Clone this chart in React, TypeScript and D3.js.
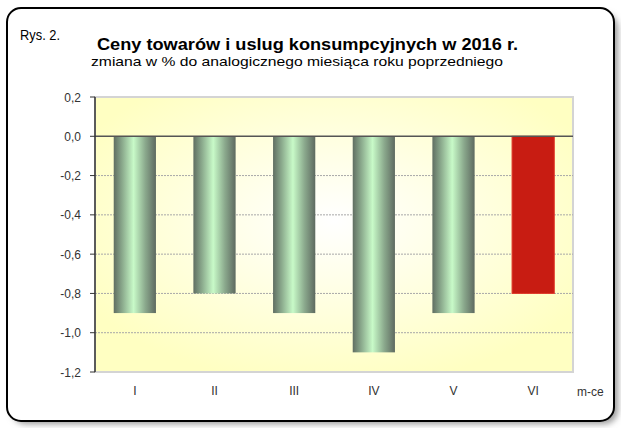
import React from 'react';
import * as d3 from 'd3';

// dane z wykresu
const months = ['I', 'II', 'III', 'IV', 'V', 'VI'];
const values = [-0.9, -0.8, -0.9, -1.1, -0.9, -0.8];
const yTicks = [0.2, 0.0, -0.2, -0.4, -0.6, -0.8, -1.0, -1.2];
const title = 'Ceny towarów i uslug konsumpcyjnych w 2016 r.';
const subtitle = 'zmiana w % do analogicznego miesiąca roku poprzedniego';

const W = 621;
const H = 428;
const plot = { left: 95, right: 573, top: 97, bottom: 372 };

const App = () => {
  const x = d3.scaleBand()
    .domain(months)
    .range([plot.left, plot.right])
    .paddingInner(0.47)
    .paddingOuter(0.235);

  const y = d3.scaleLinear()
    .domain([-1.2, 0.2])
    .range([plot.bottom, plot.top]);

  const fmt = (v: number) => d3.format('.1f')(v).replace('.', ',').replace('−', '-');
  const font = 'Arial, "Liberation Sans", sans-serif';

  return (
    <svg width={W} height={H} style={{ position: 'absolute', left: 0, top: 0 }} fontFamily={font}>
      <defs>
        <radialGradient id="bg" cx="0.5" cy="0.45" r="0.6">
          <stop offset="0" stopColor="#ffffff" />
          <stop offset="1" stopColor="#ffffc2" />
        </radialGradient>
        <linearGradient id="bar" x1="0" x2="1" y1="0" y2="0">
          <stop offset="0" stopColor="#606e62" />
          <stop offset="0.2" stopColor="#8aa98c" />
          <stop offset="0.47" stopColor="#c8fac8" />
          <stop offset="0.75" stopColor="#8aa88c" />
          <stop offset="1" stopColor="#5e6a60" />
        </linearGradient>
        <filter id="shadow" x="-5%" y="-5%" width="110%" height="110%">
          <feGaussianBlur stdDeviation="3" />
        </filter>
      </defs>

      <rect x={0} y={0} width={W} height={H} fill="#ffffff" />
      {/* cień i ramka */}
      <rect x={12} y={14} width={606} height={410} rx={14} fill="#9a9a9a" filter="url(#shadow)" />
      <rect x={7} y={8} width={607} height={413} rx={14} fill="#ffffff" stroke="#000" strokeWidth={2} />

      <text x={20} y={40} fontSize={15} fill="#000" textLength={40} lengthAdjust="spacingAndGlyphs">Rys. 2.</text>
      <text x={97} y={50} fontSize={16} fontWeight="bold" fill="#000"
        textLength={421} lengthAdjust="spacingAndGlyphs">{title}</text>
      <text x={91} y={66} fontSize={13.5} fill="#000"
        textLength={412} lengthAdjust="spacingAndGlyphs">{subtitle}</text>

      {/* tło obszaru wykresu */}
      <rect x={plot.left} y={plot.top} width={plot.right - plot.left} height={plot.bottom - plot.top}
        fill="url(#bg)" stroke="#d4d4d4" strokeWidth={2} />

      {yTicks.filter(t => t !== 0 && t !== 0.2 && t !== -1.2).map(t => (
        <line key={t} x1={plot.left} x2={plot.right} y1={y(t)} y2={y(t)}
          stroke="#a8a8a8" strokeWidth={1} strokeDasharray="2,1" />
      ))}

      {values.map((v, i) => (
        <rect key={months[i]} x={x(months[i])} y={y(0)} width={x.bandwidth()} height={y(v) - y(0)}
          fill={i === values.length - 1 ? '#c81c12' : 'url(#bar)'}
          stroke={i === values.length - 1 ? '#e03a2a' : 'none'} strokeWidth={1} />
      ))}

      <line x1={plot.left} x2={plot.right} y1={y(0)} y2={y(0)} stroke="#555" strokeWidth={1.5} />
      <line x1={plot.left} x2={plot.left} y1={plot.top} y2={plot.bottom} stroke="#333" strokeWidth={1.5} />

      {yTicks.map(t => (
        <g key={t}>
          <line x1={plot.left - 5} x2={plot.left} y1={y(t)} y2={y(t)} stroke="#333" strokeWidth={1} />
          <text x={81} y={y(t) + 4.5} fontSize={12} textAnchor="end" fill="#333">{fmt(t)}</text>
        </g>
      ))}

      {months.map(m => (
        <text key={m} x={(x(m) as number) + x.bandwidth() / 2} y={395} fontSize={12}
          textAnchor="middle" fill="#333">{m}</text>
      ))}
      <text x={577} y={396} fontSize={12} fill="#333">m-ce</text>
    </svg>
  );
};

export default App;
